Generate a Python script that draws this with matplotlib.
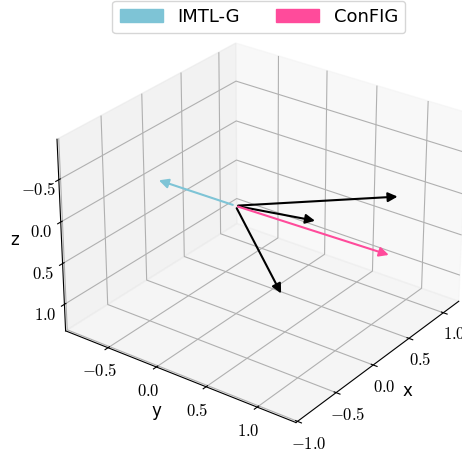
import numpy as np
import matplotlib
matplotlib.use('Agg')
import matplotlib.pyplot as plt
from matplotlib.patches import FancyArrowPatch, Patch
from mpl_toolkits.mplot3d import proj3d
from matplotlib.ticker import FuncFormatter, MultipleLocator

plt.rcParams['mathtext.fontset'] = 'cm'

# Data
gradients = [
    [0.90, 0.98, 0.00],
    [0.24, 0.64, 0.06],
    [0.15, 0.36, 1.04],
]
config_vec = [0.14, 1.42, 0.08]
imtlg_vec = [-0.07, -0.76, -0.05]
labels = ["IMTL-G", "ConFIG"]
colors = ["#7EC4D6", "#FF4B9B"]
xlim = [-1.02, 1.23]
ylim = [-0.95, 1.37]
zlim = [-0.97, 1.33]


class Arrow3D(FancyArrowPatch):
    def __init__(self, xs, ys, zs, *args, **kwargs):
        super().__init__((0, 0), (0, 0), *args, **kwargs)
        self._verts3d = xs, ys, zs

    def do_3d_projection(self, renderer=None):
        xs3d, ys3d, zs3d = self._verts3d
        xs, ys, zs = proj3d.proj_transform(xs3d, ys3d, zs3d, self.axes.M)
        self.set_positions((xs[0], ys[0]), (xs[1], ys[1]))
        return np.min(zs)


fig = plt.figure(figsize=(4.62, 4.55), dpi=100)
ax = fig.add_axes([0.069, 0.007, 0.98, 0.98], projection='3d')


def add_arrow(v, color):
    a = Arrow3D([0, v[0]], [0, v[1]], [0, v[2]], mutation_scale=14,
                lw=1.5, arrowstyle='-|>', color=color)
    ax.add_artist(a)


for g in gradients:
    add_arrow(g, 'black')
add_arrow(imtlg_vec, colors[0])
add_arrow(config_vec, colors[1])

ax.set_xlim(xlim[1], xlim[0])
ax.set_ylim(ylim)
ax.set_zlim(zlim[1], zlim[0])
ax.view_init(elev=28, azim=36.5)

fmt = FuncFormatter(lambda v, p: f"${v:.1f}$")
for axis in (ax.xaxis, ax.yaxis, ax.zaxis):
    axis.set_major_locator(MultipleLocator(0.5))
    axis.set_major_formatter(fmt)
ax.tick_params(labelsize=12, pad=0)
ax.set_xlabel('x', fontsize=12, labelpad=-2)
ax.set_ylabel('y', fontsize=12, labelpad=-2)
ax.set_zlabel('z', fontsize=12, labelpad=-2)

handles = [Patch(color=c, label=l) for c, l in zip(colors, labels)]
fig.legend(handles=handles, loc='upper center', bbox_to_anchor=(0.56, 1.018),
           ncol=2, fontsize=13, handlelength=2.4, columnspacing=2.0)

fig.savefig('out.png', dpi=100)
